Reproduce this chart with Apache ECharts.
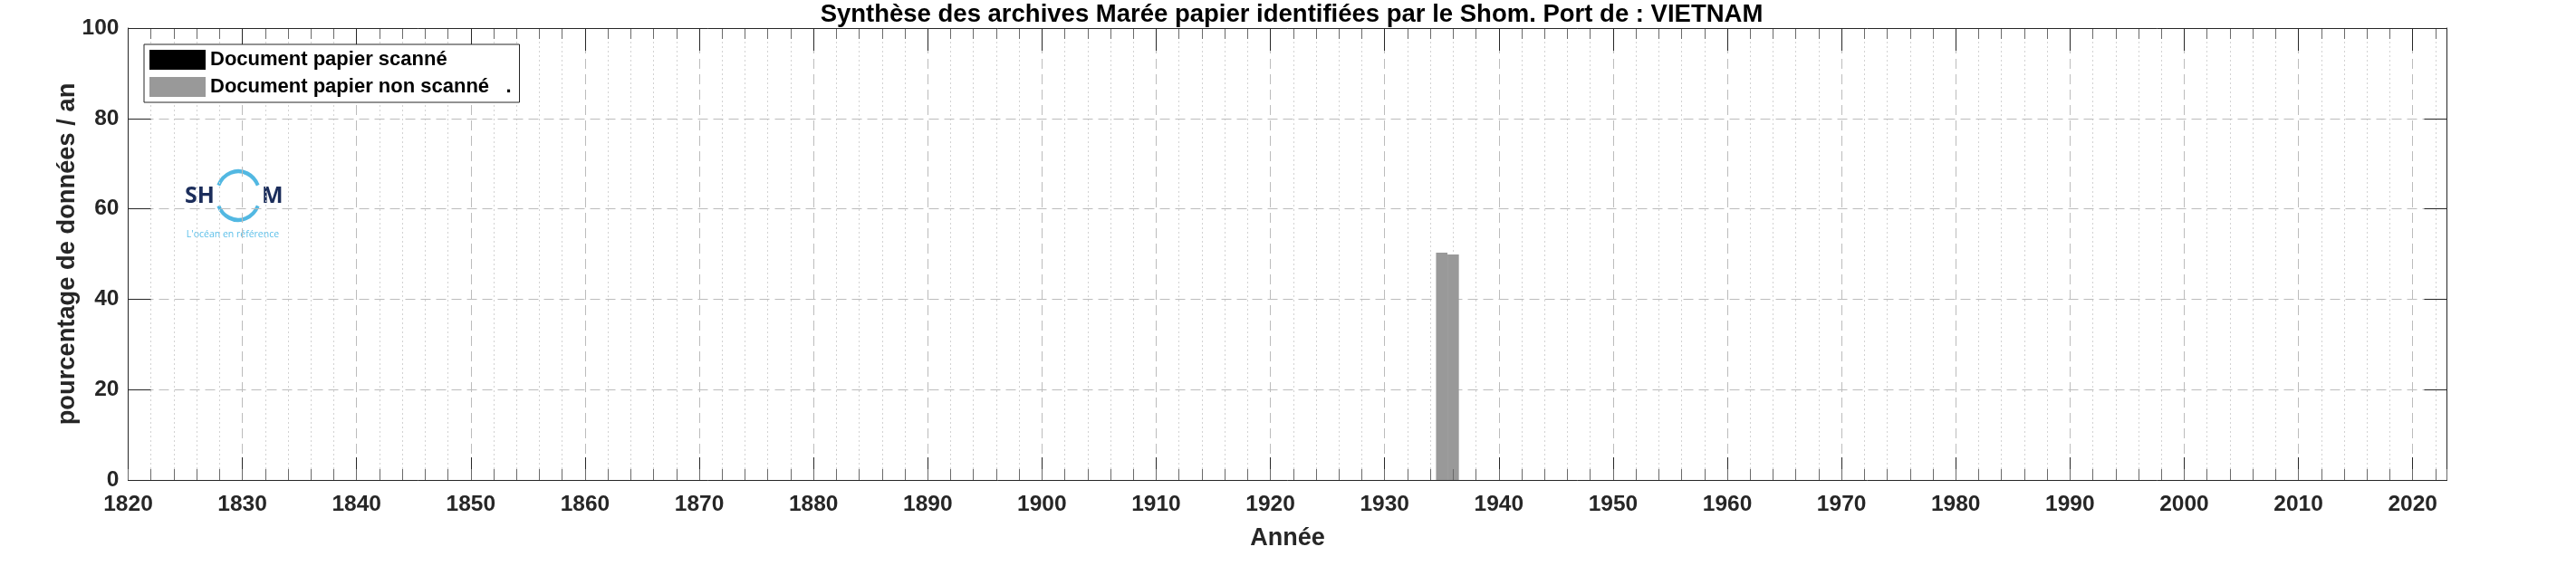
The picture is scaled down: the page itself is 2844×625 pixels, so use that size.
<!DOCTYPE html>
<html>
<head>
<meta charset="utf-8">
<script src="https://cdn.jsdelivr.net/npm/echarts@6/dist/echarts.min.js"></script>
<style>
html,body{margin:0;padding:0;background:#fff;}
#chart{width:2844px;height:625px;}
</style>
</head>
<body>
<div id="chart"></div>
<script>
// ---- data ----
const titleText = 'Synthèse des archives Marée papier identifiées par le Shom. Port de : VIETNAM';
const seriesNames = ['Document papier scanné', 'Document papier non scanné   .'];
const seriesColors = ['#000000', '#999999'];
const years = [1935, 1936];
const scanned = [0, 0];
const nonScanned = [50.3, 49.9];
const xLabelName = 'Année';
const yLabelName = 'pourcentage de données / an';
const xMin = 1820, xMax = 2023;
const yMin = 0, yMax = 100;

const FONT = "'Liberation Sans', Arial, sans-serif";
const chart = echarts.init(document.getElementById('chart'), null, {renderer: 'canvas'});

function pairs(vals) { return years.map((y, i) => [y, vals[i]]); }

function renderBar(params, api) {
  const x = api.value(0), v = api.value(1);
  if (!v) return null;
  const p0 = api.coord([x - 0.5, 0]);
  const p1 = api.coord([x + 0.5, v]);
  return {
    type: 'rect',
    shape: {x: p0[0], y: p1[1], width: p1[0] - p0[0], height: p0[1] - p1[1]},
    style: api.style()
  };
}

const minorColors = ['rgba(0,0,0,0)', '#d2d2d2', '#d2d2d2', '#d2d2d2', '#d2d2d2'];
const axisCol = '#262626';
const noLabel = {show: false};

const option = {
  backgroundColor: '#ffffff',
  animation: false,
  color: seriesColors,
  title: {
    text: titleText,
    left: 1421, textAlign: 'center',
    top: -3,
    textStyle: {fontFamily: FONT, fontSize: 27.5, fontWeight: 'bold', color: '#000'}
  },
  legend: {
    data: seriesNames,
    orient: 'vertical',
    left: 159, top: 49,
    icon: 'rect',
    itemWidth: 62, itemHeight: 22, itemGap: 8,
    padding: [6, 9, 6, 6],
    borderColor: axisCol, borderWidth: 1,
    backgroundColor: '#fff',
    textStyle: {fontFamily: FONT, fontSize: 22, fontWeight: 'bold', color: '#000'}
  },
  grid: {left: 141.5, right: 142.5, top: 31, bottom: 95, containLabel: false},
  xAxis: [
    { // bottom major: labels + ticks
      type: 'value', min: xMin, max: xMax, interval: 10, position: 'bottom', z: 5,
      axisLine: {show: true, lineStyle: {color: axisCol, width: 1}},
      axisTick: {show: true, inside: true, length: 25, lineStyle: {color: axisCol}},
      axisLabel: {show: true, margin: 15, fontFamily: FONT, fontSize: 24.5, fontWeight: 'bold', color: axisCol,
        formatter: v => (v % 10 === 0 ? String(v) : ''), showMaxLabel: true},
      splitLine: {show: false},
      name: xLabelName, nameLocation: 'middle', nameGap: 51,
      nameTextStyle: {fontFamily: FONT, fontSize: 27, fontWeight: 'bold', color: axisCol}
    },
    { // bottom minor ticks
      type: 'value', min: xMin, max: xMax, interval: 2, position: 'bottom', z: 5,
      axisLine: {show: false},
      axisTick: {show: true, inside: true, length: 12, lineStyle: {color: '#6a6a6a'}},
      axisLabel: noLabel, splitLine: {show: false}
    },
    { // top major: ticks + dashed grid
      type: 'value', min: xMin, max: xMax, interval: 10, position: 'top', z: 1,
      axisLine: {show: true, lineStyle: {color: axisCol, width: 1}},
      axisTick: {show: true, inside: true, length: 25, lineStyle: {color: axisCol}},
      axisLabel: noLabel,
      splitLine: {show: true, lineStyle: {type: [11, 6], color: '#bcbcbc', width: 1}}
    },
    { // top minor: ticks + dotted grid
      type: 'value', min: xMin, max: xMax, interval: 2, position: 'top', z: 0,
      axisLine: {show: false},
      axisTick: {show: true, inside: true, length: 12, lineStyle: {color: '#6a6a6a'}},
      axisLabel: noLabel,
      splitLine: {show: true, lineStyle: {type: [2, 3], color: minorColors, width: 1}}
    }
  ],
  yAxis: [
    {
      type: 'value', min: yMin, max: yMax, interval: 20, position: 'left', z: 1,
      axisLine: {show: true, lineStyle: {color: axisCol, width: 1}},
      axisTick: {show: true, inside: true, length: 25, lineStyle: {color: axisCol}},
      axisLabel: {show: true, margin: 10, fontFamily: FONT, fontSize: 24.5, fontWeight: 'bold', color: axisCol},
      splitLine: {show: true, lineStyle: {type: [11, 6], color: '#bcbcbc', width: 1}}
    },
    {
      type: 'value', min: yMin, max: yMax, interval: 20, position: 'right', z: 5,
      axisLine: {show: true, lineStyle: {color: axisCol, width: 1}},
      axisTick: {show: true, inside: true, length: 25, lineStyle: {color: axisCol}},
      axisLabel: noLabel, splitLine: {show: false}
    }
  ],
  series: [
    {name: seriesNames[0], type: 'custom', xAxisIndex: 0, yAxisIndex: 0, z: 3,
     itemStyle: {color: seriesColors[0]}, renderItem: renderBar, data: pairs(scanned)},
    {name: seriesNames[1], type: 'custom', xAxisIndex: 0, yAxisIndex: 0, z: 3,
     itemStyle: {color: seriesColors[1]}, renderItem: renderBar, data: pairs(nonScanned)}
  ],
  graphic: [
    {type: 'text', x: 74, y: 280.5, rotation: Math.PI / 2, z: 10,
     style: {text: yLabelName, font: "bold 27.3px 'Liberation Sans', Arial, sans-serif", fill: axisCol, textAlign: 'center', verticalAlign: 'middle'}},
    {type: 'group', z: 10, children: [
      {type: 'rect', shape: {x: 200, y: 187, width: 113, height: 81}, style: {fill: '#ffffff'}},
      {type: 'text', x: 204, y: 217, style: {text: 'SH', font: "bold 25px 'Open Sans', 'Liberation Sans', sans-serif", fill: '#1b2d5b', verticalAlign: 'middle', textAlign: 'left'}},
      {type: 'arc', originX: 263, originY: 216, scaleY: 1.12,
       shape: {cx: 263, cy: 216, r: 24, startAngle: 205 * Math.PI / 180, endAngle: 335 * Math.PI / 180, clockwise: true},
       style: {stroke: '#52b8e2', lineWidth: 4, fill: null}},
      {type: 'arc', originX: 263, originY: 216, scaleY: 1.12,
       shape: {cx: 263, cy: 216, r: 24, startAngle: 25 * Math.PI / 180, endAngle: 155 * Math.PI / 180, clockwise: true},
       style: {stroke: '#52b8e2', lineWidth: 4, fill: null}},
      {type: 'text', x: 289, y: 217, style: {text: 'M', font: "bold 25px 'Open Sans', 'Liberation Sans', sans-serif", fill: '#1b2d5b', verticalAlign: 'middle', textAlign: 'left'}},
      {type: 'text', x: 257, y: 259, style: {text: "L'océan en référence", font: "10.5px 'Open Sans', 'Liberation Sans', sans-serif", fill: '#5bbfe9', verticalAlign: 'middle', textAlign: 'center'}}
    ]}
  ]
};
chart.setOption(option);
</script>
</body>
</html>
